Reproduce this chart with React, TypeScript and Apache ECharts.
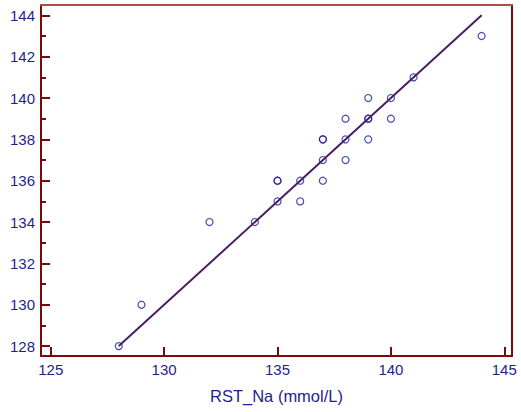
import React, { useEffect, useRef } from "react";
import * as echarts from "echarts";

const xValues = [128, 129, 132, 134, 135, 135, 135, 136, 136, 137, 137, 137, 137, 138, 138, 138, 139, 139, 139, 139, 140, 140, 141, 144];
const yValues = [128, 130, 134, 134, 135, 136, 136, 135, 136, 136, 137, 138, 138, 137, 138, 139, 138, 139, 139, 140, 139, 140, 141, 143];
const fitX = [128, 144];
const fitY = [128, 144];
const xTicks = [125, 130, 135, 140, 145];
const yTicks = [128, 130, 132, 134, 136, 138, 140, 142, 144];
const yMinorTicks = [129, 131, 133, 135, 137, 139, 141, 143];
const xName = "RST_Na (mmol/L)";

const AXIS = "#7a0a0a";
const TEXT = "#1f1f8c";
const FONT = "'Liberation Sans', Arial, sans-serif";

export default function App() {
  const ref = useRef<HTMLDivElement>(null);
  useEffect(() => {
    if (!ref.current) return;
    const chart = echarts.init(ref.current, null, { renderer: "svg" });
    const xMin = 124.57, xMax = 145.34, yMin = 127.52, yMax = 144.5;
    chart.setOption({
      animation: false,
      backgroundColor: "#ffffff",
      textStyle: { fontFamily: FONT },
      grid: { left: 41, top: 5, width: 471, height: 351 },
      xAxis: [
        {
          type: "value",
          min: xMin,
          max: xMax,
          position: "bottom",
          splitLine: { show: false },
          axisLine: { show: true, onZero: false, lineStyle: { color: AXIS, width: 2 } },
          axisTick: { show: true, inside: true, length: 9, customValues: xTicks, lineStyle: { color: AXIS, width: 2 } },
          axisLabel: { customValues: xTicks, color: TEXT, fontSize: 15, fontFamily: FONT, margin: 6 },
          name: xName,
          nameLocation: "middle",
          nameGap: 31,
          nameTextStyle: { color: TEXT, fontSize: 16.5, fontFamily: FONT },
        },
        {
          type: "value",
          min: xMin,
          max: xMax,
          position: "top",
          splitLine: { show: false },
          axisLine: { show: true, onZero: false, lineStyle: { color: "#a85050", width: 2 } },
          axisTick: { show: false },
          axisLabel: { show: false },
        },
      ],
      yAxis: [
        {
          type: "value",
          min: yMin,
          max: yMax,
          position: "left",
          splitLine: { show: false },
          axisLine: { show: true, onZero: false, lineStyle: { color: AXIS, width: 2 } },
          axisTick: { show: true, inside: true, length: 9, customValues: yTicks, lineStyle: { color: AXIS, width: 2 } },
          axisLabel: { customValues: yTicks, color: TEXT, fontSize: 15, fontFamily: FONT, margin: 6 },
        },
        {
          type: "value",
          min: yMin,
          max: yMax,
          position: "left",
          splitLine: { show: false },
          axisLine: { show: false },
          axisTick: { show: true, inside: true, length: 5, customValues: yMinorTicks, lineStyle: { color: AXIS, width: 2 } },
          axisLabel: { show: false },
        },
        {
          type: "value",
          min: yMin,
          max: yMax,
          position: "right",
          splitLine: { show: false },
          axisLine: { show: true, onZero: false, lineStyle: { color: AXIS, width: 2 } },
          axisTick: { show: false },
          axisLabel: { show: false },
        },
      ],
      series: [
        {
          type: "scatter",
          xAxisIndex: 0,
          yAxisIndex: 0,
          symbol: "circle",
          symbolSize: 7,
          itemStyle: { color: "rgba(0,0,0,0)", borderColor: "#1c1ca0", borderWidth: 1.2 },
          data: xValues.map((x, i) => [x, yValues[i]]),
          z: 2,
        },
        {
          type: "line",
          xAxisIndex: 0,
          yAxisIndex: 0,
          symbol: "none",
          lineStyle: { color: "#2a2a9a", width: 2 },
          data: fitX.map((x, i) => [x, fitY[i]]),
          z: 3,
        },
        {
          type: "line",
          xAxisIndex: 0,
          yAxisIndex: 0,
          symbol: "none",
          lineStyle: { color: "#801010", width: 1 },
          data: fitX.map((x, i) => [x, fitY[i]]),
          z: 4,
        },
      ],
    });
    return () => chart.dispose();
  }, []);
  return (
    <div
      ref={ref}
      style={{ position: "fixed", left: 0, top: 0, width: 521, height: 412, background: "#fff" }}
    />
  );
}
